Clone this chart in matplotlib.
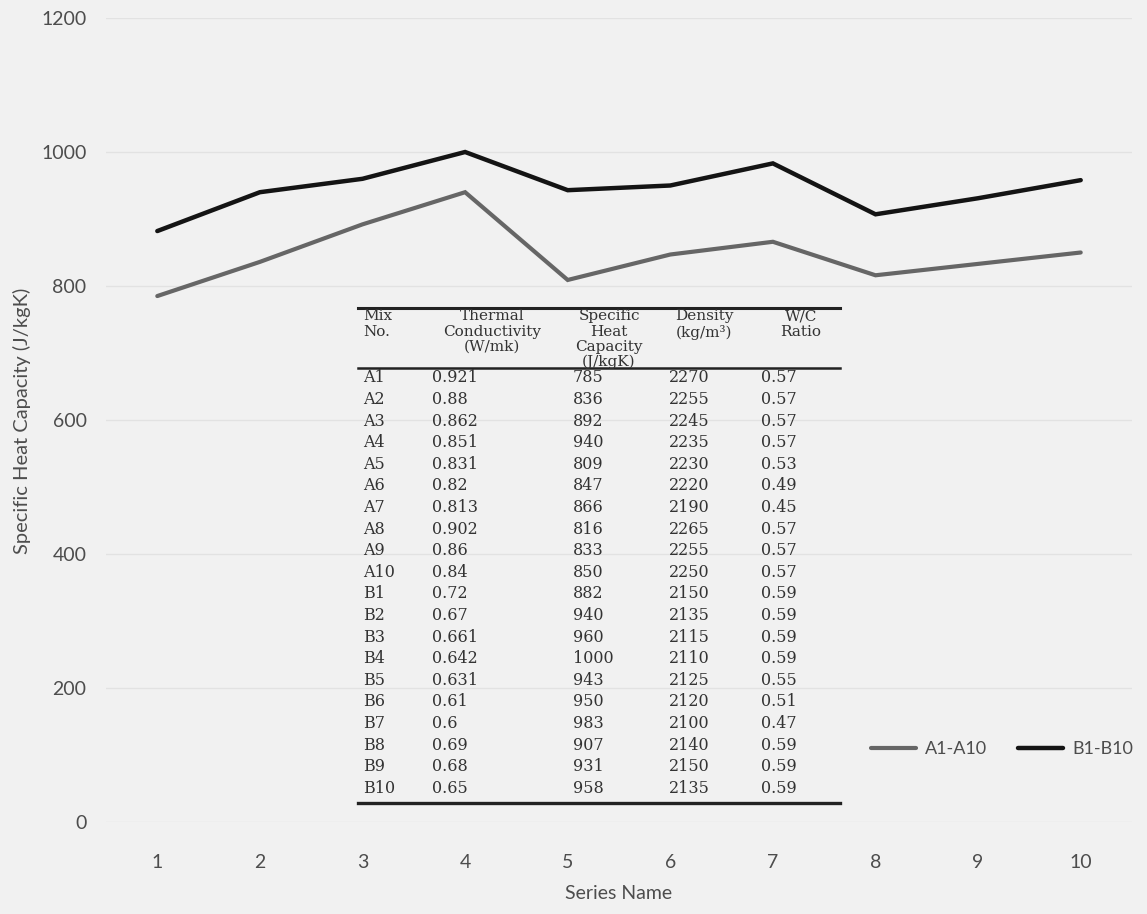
import matplotlib
matplotlib.use("Agg")
import matplotlib.pyplot as plt
from matplotlib.lines import Line2D

# ---------------- data ----------------
mix_no = ["A1", "A2", "A3", "A4", "A5", "A6", "A7", "A8", "A9", "A10",
          "B1", "B2", "B3", "B4", "B5", "B6", "B7", "B8", "B9", "B10"]
thermal_cond = ["0.921", "0.88", "0.862", "0.851", "0.831", "0.82", "0.813", "0.902", "0.86", "0.84",
                "0.72", "0.67", "0.661", "0.642", "0.631", "0.61", "0.6", "0.69", "0.68", "0.65"]
specific_heat = [785, 836, 892, 940, 809, 847, 866, 816, 833, 850,
                 882, 940, 960, 1000, 943, 950, 983, 907, 931, 958]
density = [2270, 2255, 2245, 2235, 2230, 2220, 2190, 2265, 2255, 2250,
           2150, 2135, 2115, 2110, 2125, 2120, 2100, 2140, 2150, 2135]
wc_ratio = ["0.57", "0.57", "0.57", "0.57", "0.53", "0.49", "0.45", "0.57", "0.57", "0.57",
            "0.59", "0.59", "0.59", "0.59", "0.55", "0.51", "0.47", "0.59", "0.59", "0.59"]

categories = [1, 2, 3, 4, 5, 6, 7, 8, 9, 10]
series_a = specific_heat[:10]
series_b = specific_heat[10:]
series_names = ["A1-A10", "B1-B10"]
y_ticks = [0, 200, 400, 600, 800, 1000, 1200]

headers = [["Mix", "No."],
           ["Thermal", "Conductivity", "(W/mk)"],
           ["Specific", "Heat", "Capacity", "(J/kgK)"],
           ["Density", "(kg/m\u00b3)"],
           ["W/C", "Ratio"]]

# ---------------- figure ----------------
W, H = 1147, 914
DPI = 100
BG = "#f1f1f1"
fig = plt.figure(figsize=(W / DPI, H / DPI), dpi=DPI, facecolor=BG)

def fx(px):
    return px / W

def fy(py):
    return 1 - py / H

ax_left, ax_right, ax_top, ax_bot = 106, 1132, 18, 822
ax = fig.add_axes([fx(ax_left), fy(ax_bot), fx(ax_right - ax_left), (ax_bot - ax_top) / H])
ax.set_facecolor("none")

sans = "Lato"
lab_col = "#4d4d4d"
ax.plot(categories, series_a, color="#666666", lw=3.0, solid_capstyle="round",
        solid_joinstyle="miter", label=series_names[0], zorder=3)
ax.plot(categories, series_b, color="#141414", lw=3.2, solid_capstyle="round",
        solid_joinstyle="miter", label=series_names[1], zorder=3)

ax.set_xlim(0.5, 10.5)
ax.set_ylim(0, 1200)
ax.set_yticks(y_ticks)
ax.set_xticks(categories)
ax.set_yticklabels([str(v) for v in y_ticks], fontfamily=sans, fontsize=14, color=lab_col)
ax.set_xticklabels([str(v) for v in categories], fontfamily=sans, fontsize=14, color=lab_col)
ax.tick_params(axis="y", length=0, pad=14)
ax.tick_params(axis="x", length=0, pad=23)
for s in ax.spines.values():
    s.set_visible(False)
ax.grid(axis="y", color="#e2e2e2", lw=1.0, zorder=0)
ax.set_axisbelow(True)

ax.set_xlabel("Series Name", fontfamily=sans, fontsize=14, color=lab_col, labelpad=10)
fig.text(fx(22), fy(421), "Specific Heat Capacity (J/kgK)", rotation=90,
         ha="center", va="center", fontfamily=sans, fontsize=14.5, color=lab_col)

leg = ax.legend(loc="center", bbox_to_anchor=((1002 - ax_left) / (ax_right - ax_left),
                                              (ax_bot - 749) / (ax_bot - ax_top)),
                ncol=2, frameon=False, handlelength=2.5, handletextpad=0.5,
                columnspacing=1.7, prop={"family": sans, "size": 13})
for t in leg.get_texts():
    t.set_color(lab_col)

# ---------------- table overlay ----------------
serif = "DejaVu Serif"
tcol = "#333333"
tsize = 11.5
hsize = 11
tbl_left, tbl_right = 358, 840
fig.add_artist(Line2D([fx(tbl_left), fx(tbl_right)], [fy(308), fy(308)], color="#222222", lw=2.2))
fig.add_artist(Line2D([fx(tbl_left), fx(tbl_right)], [fy(368), fy(368)], color="#222222", lw=1.8))
fig.add_artist(Line2D([fx(tbl_left), fx(tbl_right)], [fy(803), fy(803)], color="#222222", lw=2.4))

header_x = [363, 492, 609, 704, 801]
header_ha = ["left", "center", "center", "center", "center"]
header_y = [316, 332, 347, 362]
for col, lines in enumerate(headers):
    for i, line in enumerate(lines):
        fig.text(fx(header_x[col]), fy(header_y[i]), line, ha=header_ha[col], va="center",
                 fontfamily=serif, fontsize=hsize, color=tcol)

data_x = [363, 432, 573, 669, 761]
row0, row_step = 378, 21.6
for r in range(len(mix_no)):
    y = fy(row0 + r * row_step)
    vals = [mix_no[r], thermal_cond[r], str(specific_heat[r]), str(density[r]), wc_ratio[r]]
    for c, v in enumerate(vals):
        fig.text(fx(data_x[c]), y, v, ha="left", va="center",
                 fontfamily=serif, fontsize=tsize, color=tcol)

fig.savefig("out.png", dpi=DPI, facecolor=BG)
